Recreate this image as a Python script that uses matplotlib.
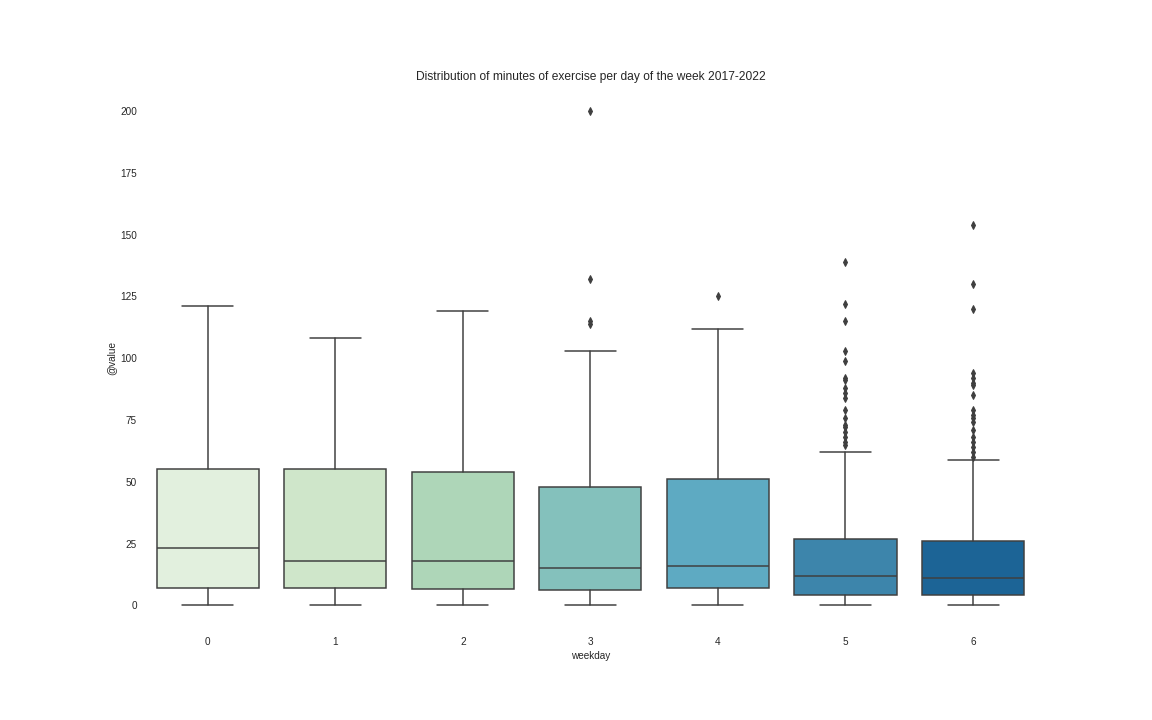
import numpy as np
import matplotlib.pyplot as plt
import seaborn as sns

sns.set_style("white")
plt.rcParams['font.family'] = ['Liberation Sans', 'DejaVu Sans']

weekdays = ["0", "1", "2", "3", "4", "5", "6"]
q1 = [7, 7, 6.5, 6, 7, 4, 4]
medians = [23, 18, 18, 15, 16, 12, 11]
q3 = [55, 55, 54, 48, 51, 27, 26]
whisker_low = [0, 0, 0, 0, 0, 0, 0]
whisker_high = [121, 108, 119, 103, 112, 62, 59]
fliers = [
    [],
    [],
    [],
    [200, 132, 115, 114],
    [125],
    [139, 122, 115, 103, 99, 92, 91, 88, 86, 84, 79, 76, 73, 72, 70, 68, 66, 65],
    [154, 130, 120, 94, 92, 90, 89, 85, 79, 77, 76, 74, 71, 68, 66, 64, 62, 60],
]

stats = []
for i in range(len(weekdays)):
    stats.append({"q1": q1[i], "med": medians[i], "q3": q3[i],
                  "whislo": whisker_low[i], "whishi": whisker_high[i],
                  "fliers": fliers[i], "label": weekdays[i]})

colors = sns.color_palette("GnBu", len(weekdays), desat=0.75)
line_color = "#3f3f3f"

fig = plt.figure(figsize=(16, 10), dpi=72)
ax = fig.add_subplot(111)
bp = ax.bxp(stats, positions=range(len(weekdays)), widths=0.8, patch_artist=True,
            boxprops=dict(edgecolor=line_color, linewidth=1.5),
            medianprops=dict(color=line_color, linewidth=1.5),
            whiskerprops=dict(color=line_color, linewidth=1.5),
            capprops=dict(color=line_color, linewidth=1.5),
            flierprops=dict(marker="d", markerfacecolor=line_color, markeredgecolor=line_color,
                            markersize=5))
for patch, c in zip(bp["boxes"], colors):
    patch.set_facecolor(c)
for cap in bp["caps"]:
    x0, x1 = cap.get_xdata()
    mid = (x0 + x1) / 2
    cap.set_xdata([mid - 0.2, mid + 0.2])

ax.set_xlim(-0.5, 6.5)
ax.set_ylim(-10, 210)
ax.set_yticks([0, 25, 50, 75, 100, 125, 150, 175, 200])
ax.tick_params(labelsize=10)
ax.set_xlabel("weekday", fontsize=10)
ax.set_ylabel("@value", fontsize=10)
ax.set_title("Distribution of minutes of exercise per day of the week 2017-2022", fontsize=12)
sns.despine(left=True, bottom=True)
fig.subplots_adjust(bottom=0.125)
fig.savefig("out.png")
